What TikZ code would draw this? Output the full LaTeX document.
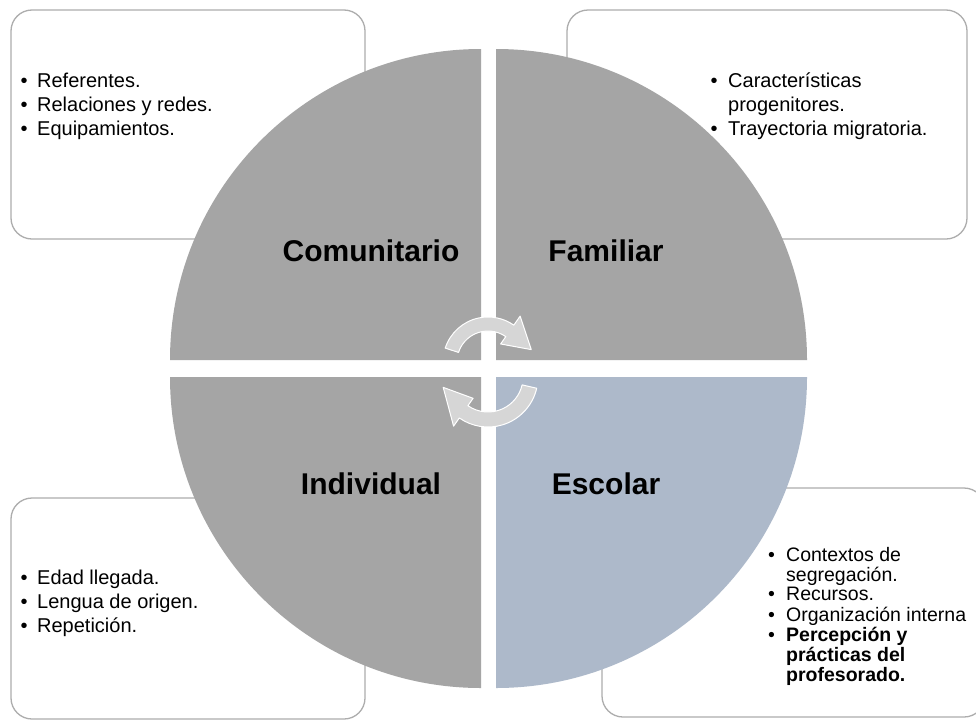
\documentclass[tikz,border=0pt]{standalone}
\usepackage{fontspec}
\setmainfont{Liberation Sans}
\usetikzlibrary{calc}

\definecolor{quadgray}{HTML}{A5A5A5}
\definecolor{quadblue}{HTML}{ADB9CA}
\definecolor{arrowgray}{HTML}{D6D6D6}
\definecolor{boxline}{HTML}{ADADAD}

\tikzset{
  infobox/.style={draw=boxline, line width=1.3pt, rounded corners=21pt, fill=white},
  quadlabel/.style={anchor=base, inner sep=0pt, font=\fontsize{30}{36}\selectfont\bfseries},
  bullets/.style={anchor=base west, inner sep=0pt, font=\fontsize{20}{24}\selectfont},
  smallbullets/.style={anchor=base west, inner sep=0pt, font=\fontsize{19.5}{19.7}\selectfont},
  cyclearrow/.style={fill=arrowgray, draw=white, line width=1pt, line join=round}
}
\newcommand{\bul}[1][16.5pt]{\makebox[#1][l]{•}}

\begin{document}
\begin{tikzpicture}[x=1pt, y=-1pt]
  \path[use as bounding box, fill=white] (0,0) rectangle (976,723);

  % outer boxes, behind the circle
  \draw[infobox] (11,10) rectangle (365,239);
  \draw[infobox] (567,10) rectangle (967,239);
  \draw[infobox] (11,498) rectangle (365,719);
  \draw[infobox] (602,488) rectangle (985,717);

  \node[bullets] (comlist) at (20.5,87) {\begin{tabular}[t]{@{}l@{}}
    \bul Referentes.\\
    \bul Relaciones y redes.\\
    \bul Equipamientos.
  \end{tabular}};
  \node[bullets] (famlist) at (710.5,87) {\begin{tabular}[t]{@{}l@{}}
    \bul[17.5pt]Características\\
    \hspace*{17.5pt}progenitores.\\
    \bul[17.5pt]Trayectoria migratoria.
  \end{tabular}};
  \node[bullets] (indlist) at (20.5,584) {\begin{tabular}[t]{@{}l@{}}
    \bul Edad llegada.\\
    \bul Lengua de origen.\\
    \bul Repetición.
  \end{tabular}};
  \node[smallbullets] (esclist) at (768,561) {\begin{tabular}[t]{@{}l@{}}
    \bul[18pt]Contextos de\\
    \hspace*{18pt}segregación.\\
    \bul[18pt]Recursos.\\
    \bul[18pt]Organización interna\\
    \bul[18pt]\textbf{Percepción y}\\
    \hspace*{18pt}\textbf{prácticas del}\\
    \hspace*{18pt}\textbf{profesorado.}
  \end{tabular}};

  % the four quarters
  \fill[quadgray] (481,360) -- +(180:311) arc[start angle=180, end angle=270, radius=311] -- cycle;
  \fill[quadgray] (496,360) -- +(270:311) arc[start angle=270, end angle=360, radius=311] -- cycle;
  \fill[quadblue] (496,377) -- +(0:311) arc[start angle=0, end angle=90, radius=311] -- cycle;
  \fill[quadgray] (481,377) -- +(90:311) arc[start angle=90, end angle=180, radius=311] -- cycle;

  % cycle arrows in the middle
  \coordinate (ta) at (488,362);
  \coordinate (ba) at (488,377);
  \filldraw[cyclearrow] ($(ta)+(198:45)$) arc[start angle=198, end angle=305, radius=45]
    -- ($(ta)+(305:56)$) -- ($(ta)+(344:45)$) -- ($(ta)+(305:22)$)
    -- ($(ta)+(305:31)$) arc[start angle=305, end angle=198, radius=31] -- cycle;
  \filldraw[cyclearrow] ($(ba)+(13:50)$) arc[start angle=13, end angle=125, radius=50]
    -- ($(ba)+(125:60)$) -- ($(ba)+(167:46)$) -- ($(ba)+(125:26)$)
    -- ($(ba)+(125:35)$) arc[start angle=125, end angle=13, radius=35] -- cycle;

  \node[quadlabel] (com) at (371,261) {Comunitario};
  \node[quadlabel] (fam) at (606,261) {Familiar};
  \node[quadlabel] (ind) at (371,494) {Individual};
  \node[quadlabel] (esc) at (606,494) {Escolar};
\end{tikzpicture}
\end{document}
